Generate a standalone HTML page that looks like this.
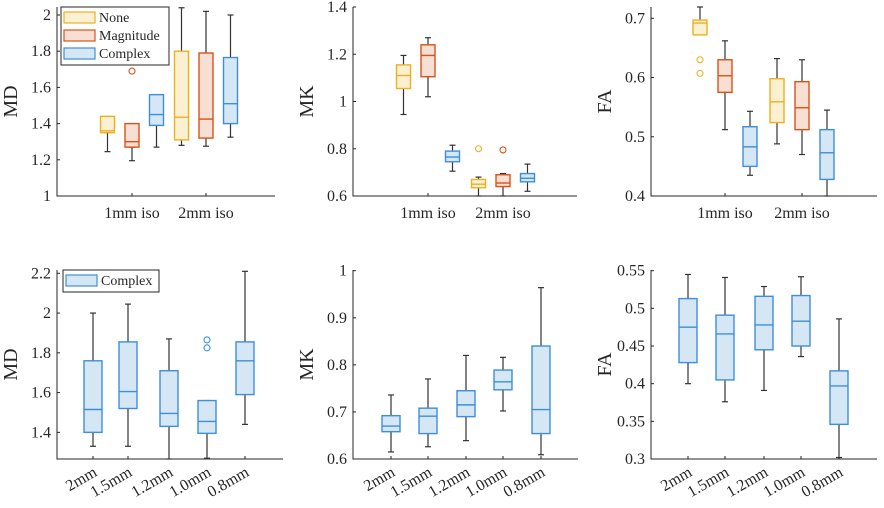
<!DOCTYPE html>
<html><head><meta charset="utf-8"><style>
html,body{margin:0;padding:0;background:#fff;}
svg{display:block;font-family:"Liberation Serif",serif;}
</style></head><body>
<svg id="fig" width="884" height="508" xmlns="http://www.w3.org/2000/svg"></svg>
<script>
// ---- data ----
const topCats = ["1mm iso","2mm iso"];
const botCats = ["2mm","1.5mm","1.2mm","1.0mm","0.8mm"];
const seriesNames = ["None","Magnitude","Complex"];
// each stat: [lo, q1, med, q3, hi]
const mdTopNone = [[1.245,1.35,1.36,1.44,1.35],[1.28,1.31,1.435,1.80,2.04]];
const mdTopMag  = [[1.195,1.27,1.30,1.40,1.27],[1.275,1.32,1.425,1.79,2.02]];
const mdTopCplx = [[1.27,1.39,1.45,1.56,1.56],[1.325,1.40,1.51,1.765,2.00]];
const mdTopOut  = [[[],[]],[[1.69],[]],[[],[]]];
const mkTopNone = [[0.945,1.055,1.11,1.155,1.195],[0.60,0.635,0.65,0.67,0.68]];
const mkTopMag  = [[1.02,1.105,1.195,1.24,1.27],[0.60,0.64,0.655,0.69,0.695]];
const mkTopCplx = [[0.705,0.745,0.765,0.79,0.815],[0.62,0.66,0.675,0.695,0.735]];
const mkTopOut  = [[[],[0.80]],[[],[0.795]],[[],[]]];
const faTopNone = [[0.672,0.672,0.692,0.697,0.72],[0.488,0.524,0.559,0.598,0.632]];
const faTopMag  = [[0.512,0.575,0.603,0.63,0.662],[0.47,0.512,0.549,0.593,0.63]];
const faTopCplx = [[0.435,0.45,0.483,0.517,0.543],[0.40,0.428,0.473,0.512,0.545]];
const faTopOut  = [[[0.63,0.607],[]],[[],[]],[[],[]]];
const mdBot = [[1.33,1.40,1.515,1.76,2.00],[1.33,1.52,1.605,1.855,2.045],[1.265,1.43,1.495,1.71,1.87],[1.27,1.395,1.455,1.56,1.56],[1.44,1.59,1.76,1.855,2.21]];
const mdBotOut = [[],[],[],[1.865,1.825],[]];
const mkBot = [[0.615,0.658,0.67,0.692,0.736],[0.626,0.654,0.691,0.708,0.77],[0.639,0.69,0.715,0.745,0.82],[0.702,0.747,0.764,0.789,0.816],[0.609,0.654,0.705,0.84,0.964]];
const mkBotOut = [[],[],[],[],[]];
const faBot = [[0.40,0.428,0.475,0.513,0.545],[0.376,0.405,0.466,0.491,0.541],[0.391,0.445,0.478,0.516,0.529],[0.436,0.45,0.483,0.517,0.542],[0.302,0.346,0.397,0.417,0.486]];
const faBotOut = [[],[],[],[],[]];
const mdTopTicks = ["1","1.2","1.4","1.6","1.8","2"];
const mkTopTicks = ["0.6","0.8","1","1.2","1.4"];
const faTopTicks = ["0.4","0.5","0.6","0.7"];
const mdBotTicks = ["1.4","1.6","1.8","2","2.2"];
const mkBotTicks = ["0.6","0.7","0.8","0.9","1"];
const faBotTicks = ["0.3","0.35","0.4","0.45","0.5","0.55"];

const EDGE=["#EDB120","#D95319","#3d8fd9"], FILL=["#fbf0d2","#f7dfd3","#d5e6f4"];
const NS="http://www.w3.org/2000/svg", svg=document.getElementById('fig');
function mk(tag,attrs,parent){const e=document.createElementNS(NS,tag);for(const k in attrs)e.setAttribute(k,attrs[k]);(parent||svg).appendChild(e);return e;}

function panel(name,P,yTicks,yLabel,cats,groups,outs,rotate,boxW,offs){
  const g=mk('g',{});
  
  
  const y=v=>P.y0-(v-P.v0)/(P.v1-P.v0)*(P.y0-P.y1);
  const xc=i=>P.cx[i];
  const ax=mk('path',{d:`M${P.x0} ${P.yt}V${P.y0}H${P.x1}`,stroke:'#262626','stroke-width':1,fill:'none'},g);
  
  
  yTicks.forEach(t=>{const v=parseFloat(t),yy=y(v);
    mk('line',{x1:P.x0,x2:P.x0+3,y1:yy,y2:yy,stroke:'#262626'},g);
    const tx=mk('text',{x:P.x0-6,y:yy+5,'text-anchor':'end','font-size':16,fill:'#262626'},g);tx.textContent=t;
    
    
  });
  cats.forEach((c,i)=>{const xx=xc(i);
    mk('line',{x1:xx,x2:xx,y1:P.y0,y2:P.y0-3,stroke:'#262626'},g);
    let tx;
    if(rotate){tx=mk('text',{x:xx+5,y:P.y0+16,'text-anchor':'end','font-size':16,fill:'#262626',transform:`rotate(-30 ${xx+5} ${P.y0+16})`},g);}
    else tx=mk('text',{x:xx,y:P.y0+22,'text-anchor':'middle','font-size':16,fill:'#262626'},g);
    tx.textContent=c;
    
    
  });
  const yl=mk('text',{x:0,y:0,'text-anchor':'middle','font-size':20,fill:'#262626',transform:`translate(${P.x0-40} ${(P.y0+P.yt)/2}) rotate(-90)`},g);
  yl.textContent=yLabel;
  
  
  const cl=v=>Math.max(P.yt,Math.min(P.y0,y(v)));
  groups.forEach((ser,si)=>{ser.data.forEach((s,i)=>{
    const cx=xc(i)+offs[si];
    const bg=mk('g',{},g);
    
    
    const [lo,q1,md,q3,hi]=s;
    mk('line',{x1:cx,x2:cx,y1:cl(hi),y2:y(q3),stroke:'#333','stroke-width':1.2},bg);
    mk('line',{x1:cx,x2:cx,y1:y(q1),y2:cl(lo),stroke:'#333','stroke-width':1.2},bg);
    mk('line',{x1:cx-3,x2:cx+3,y1:cl(hi),y2:cl(hi),stroke:'#333','stroke-width':1.2},bg);
    mk('line',{x1:cx-3,x2:cx+3,y1:cl(lo),y2:cl(lo),stroke:'#333','stroke-width':1.2},bg);
    mk('rect',{x:cx-boxW/2,y:y(q3),width:boxW,height:Math.max(0.5,y(q1)-y(q3)),fill:FILL[ser.c],stroke:EDGE[ser.c],'stroke-width':1.4},bg);
    mk('line',{x1:cx-boxW/2,x2:cx+boxW/2,y1:y(md),y2:y(md),stroke:EDGE[ser.c],'stroke-width':1.4},bg);
    ((outs[si]||[])[i]||[]).forEach(o=>{const c=mk('circle',{cx:cx,cy:y(o),r:3,fill:'none',stroke:EDGE[ser.c],'stroke-width':1.1},bg);
      
      });
  });});
}
const tg=(n,c)=>[{name:'none',c:0,data:n},{name:'magnitude',c:1,data:c[0]},{name:'complex',c:2,data:c[1]}];
const topOff=[-24.5,0,24.5];
panel('md-top-panel',{x0:57,x1:275,yt:7,y0:196,y1:15,v0:1,v1:2,cx:[132,206]},mdTopTicks,'MD',topCats,tg(mdTopNone,[mdTopMag,mdTopCplx]),mdTopOut,false,14,topOff);
panel('mk-top-panel',{x0:353,x1:577,yt:7,y0:196,y1:7,v0:0.6,v1:1.4,cx:[428,503]},mkTopTicks,'MK',topCats,tg(mkTopNone,[mkTopMag,mkTopCplx]),mkTopOut,false,14,topOff);
panel('fa-top-panel',{x0:651,x1:877,yt:7,y0:196,y1:18.3,v0:0.4,v1:0.7,cx:[725,802]},faTopTicks,'FA',topCats,tg(faTopNone,[faTopMag,faTopCplx]),faTopOut,false,14,[-25,0,25]);
panel('md-bottom-panel',{x0:57,x1:283,yt:270,y0:459,y1:273.3,v0:1.266,v1:2.2,cx:[93,128,169,207,245]},mdBotTicks,'MD',botCats,[{name:'complex',c:2,data:mdBot}],[mdBotOut],true,18,[0]);
panel('mk-bottom-panel',{x0:353,x1:578,yt:270,y0:459,y1:270.7,v0:0.6,v1:1.0,cx:[391,428,466,503,541]},mkBotTicks,'MK',botCats,[{name:'complex',c:2,data:mkBot}],[mkBotOut],true,18,[0]);
panel('fa-bottom-panel',{x0:651,x1:877,yt:270,y0:459,y1:270.7,v0:0.3,v1:0.55,cx:[688,725,764,801,839]},faBotTicks,'FA',botCats,[{name:'complex',c:2,data:faBot}],[faBotOut],true,18,[0]);

function legend(name,x,y,w,items){
  const g=mk('g',{});
  
  
  mk('rect',{x:x,y:y,width:w,height:items.length*18+4,fill:'#fff',stroke:'#262626','stroke-width':1},g);
  items.forEach((it,i)=>{
    const e=mk('g',{},g);
    
    
    mk('rect',{x:x+3,y:y+5+i*18,width:31,height:11,fill:FILL[it],stroke:EDGE[it],'stroke-width':1.2},e);
    const t=mk('text',{x:x+38,y:y+15+i*18,'font-size':14,fill:'#262626'},e);t.textContent=seriesNames[it];
  });
}
legend('legend-top',61,7,108,[0,1,2]);
legend('legend-bottom',63,270,96,[2]);
</script>
</body></html>
